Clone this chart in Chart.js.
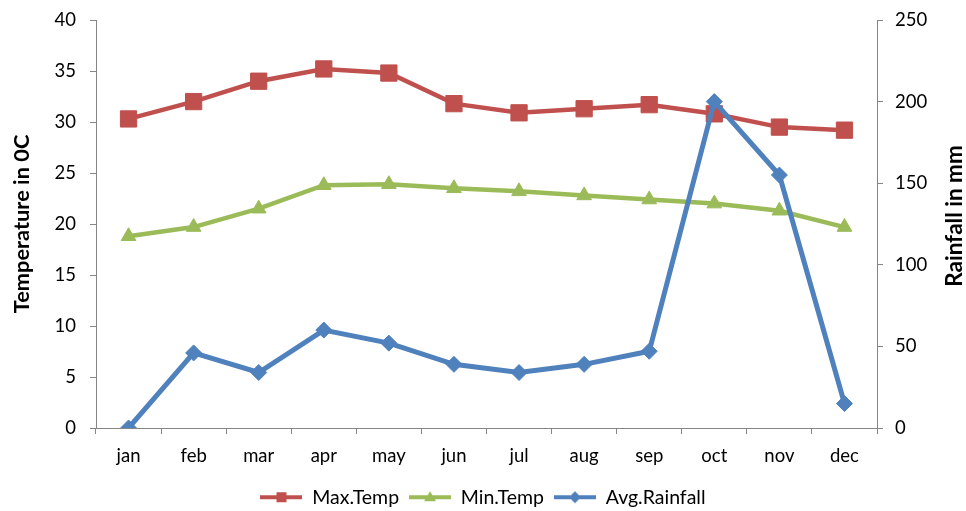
<!DOCTYPE html>
<html>
<head>
<meta charset="utf-8">
<script src="https://cdn.jsdelivr.net/npm/chart.js@4.4.1/dist/chart.umd.min.js"></script>
<style>
  body { margin: 0; background: #fff; }
</style>
</head>
<body>
<canvas id="climateChart" width="966" height="511"></canvas>
<script>
  // Data
  const months = ['jan', 'feb', 'mar', 'apr', 'may', 'jun', 'jul', 'aug', 'sep', 'oct', 'nov', 'dec'];
  const maxTemp = [30.3, 32.0, 34.0, 35.2, 34.8, 31.8, 30.9, 31.3, 31.7, 30.8, 29.5, 29.2];
  const minTemp = [18.8, 19.7, 21.5, 23.8, 23.9, 23.5, 23.2, 22.8, 22.4, 22.0, 21.3, 19.7];
  const avgRainfall = [0, 46, 34, 60, 52, 39, 34, 39, 47, 200, 155, 15];

  // Axis tick values
  const tempTicks = [0, 5, 10, 15, 20, 25, 30, 35, 40];
  const rainTicks = [0, 50, 100, 150, 200, 250];

  const RED = '#C0504D';
  const GREEN = '#9BBB59';
  const BLUE = '#4F81BD';
  const AXIS = '#868686';
  const FONT = 'Lato, "Open Sans", sans-serif';

  // Small canvas used as legend symbol: line with marker in the middle
  function legendIcon(color, shape) {
    const c = document.createElement('canvas');
    c.width = 42;
    c.height = 16;
    const g = c.getContext('2d');
    g.strokeStyle = color;
    g.fillStyle = color;
    g.lineWidth = 4;
    g.beginPath();
    g.moveTo(0, 8);
    g.lineTo(42, 8);
    g.stroke();
    g.beginPath();
    if (shape === 'rect') {
      g.rect(16, 3, 10, 10);
    } else if (shape === 'triangle') {
      g.moveTo(21, 2);
      g.lineTo(27, 12);
      g.lineTo(15, 12);
      g.closePath();
    } else {
      g.moveTo(21, 2);
      g.lineTo(27, 8);
      g.lineTo(21, 14);
      g.lineTo(15, 8);
      g.closePath();
    }
    g.fill();
    return c;
  }

  const icons = [legendIcon(RED, 'rect'), legendIcon(GREEN, 'triangle'), legendIcon(BLUE, 'rectRot')];

  // Right axis title reads bottom-to-top, like the left one
  const rightTitle = {
    id: 'rightTitle',
    afterDraw(chart) {
      const c = chart.ctx;
      const area = chart.chartArea;
      c.save();
      c.translate(955, (area.top + area.bottom) / 2 - 8);
      c.rotate(-Math.PI / 2);
      c.font = 'bold 22.5px ' + FONT;
      c.fillStyle = '#000';
      c.textAlign = 'center';
      c.textBaseline = 'middle';
      c.fillText('Rainfall in mm', 0, 0);
      c.restore();
    }
  };

  // fixed axis widths; drop the tick-label padding so the plot top sits at layout padding
  function fixWidth(w) {
    return (s) => {
      s.width = w;
      s.paddingTop = 0;
      s.paddingBottom = 0;
    };
  }

  const ctx = document.getElementById('climateChart').getContext('2d');

  const climateChart = new Chart(ctx, {
    type: 'line',
    data: {
      labels: months,
      datasets: [{
        label: 'Max.Temp',
        data: maxTemp,
        yAxisID: 'y',
        borderColor: RED,
        backgroundColor: RED,
        borderWidth: 4.5,
        pointStyle: 'rect',
        pointRadius: 11.5,
        pointBorderWidth: 1,
        order: 3
      }, {
        label: 'Min.Temp',
        data: minTemp,
        yAxisID: 'y',
        borderColor: GREEN,
        backgroundColor: GREEN,
        borderWidth: 4.5,
        pointStyle: 'triangle',
        pointRadius: 8.5,
        pointBorderWidth: 1,
        order: 2
      }, {
        label: 'Avg.Rainfall',
        data: avgRainfall,
        yAxisID: 'y1',
        borderColor: BLUE,
        backgroundColor: BLUE,
        borderWidth: 5,
        pointStyle: 'rectRot',
        pointRadius: 8,
        pointBorderWidth: 1,
        order: 1
      }]
    },
    options: {
      responsive: false,
      animation: false,
      layout: {
        autoPadding: false,
        padding: { top: 20, bottom: -6, left: 0, right: 0 }
      },
      plugins: {
        tooltip: { enabled: false },
        legend: {
          position: 'bottom',
          labels: {
            usePointStyle: true,
            pointStyleWidth: 42,
            padding: 10,
            color: '#000',
            font: { family: FONT, size: 19.5 },
            generateLabels: () => ['Max.Temp', 'Min.Temp', 'Avg.Rainfall'].map((t, i) => ({
              text: t,
              pointStyle: icons[i],
              fillStyle: 'transparent',
              strokeStyle: 'transparent',
              lineWidth: 0,
              datasetIndex: i
            }))
          }
        }
      },
      scales: {
        x: {
          offset: true,
          afterFit: (s) => { s.height = 49.5; },
          grid: { display: true, offset: true, drawOnChartArea: false, tickLength: 6, color: AXIS },
          border: { display: true, color: AXIS, width: 1 },
          ticks: { color: '#000', padding: 11, maxRotation: 0, font: { family: FONT, size: 18.5 } }
        },
        y: {
          position: 'left',
          min: tempTicks[0],
          max: tempTicks[tempTicks.length - 1],
          afterFit: fixWidth(96),
          grid: { display: true, drawOnChartArea: false, tickLength: 6, color: AXIS },
          border: { display: true, color: AXIS, width: 1 },
          ticks: { stepSize: tempTicks[1] - tempTicks[0], color: '#000', padding: 14, font: { family: FONT, size: 18.5 } },
          title: {
            display: true,
            text: 'Temperature in 0C',
            color: '#000',
            padding: { top: 9, bottom: 0 },
            font: { family: FONT, size: 21.8, weight: 'bold' }
          }
        },
        y1: {
          position: 'right',
          min: rainTicks[0],
          max: rainTicks[rainTicks.length - 1],
          afterFit: fixWidth(89),
          grid: { display: true, drawOnChartArea: false, tickLength: 6, color: AXIS },
          border: { display: true, color: AXIS, width: 1 },
          ticks: { stepSize: rainTicks[1] - rainTicks[0], color: '#000', padding: 12, font: { family: FONT, size: 18.5 } }
        }
      }
    },
    plugins: [rightTitle]
  });
</script>
</body>
</html>
